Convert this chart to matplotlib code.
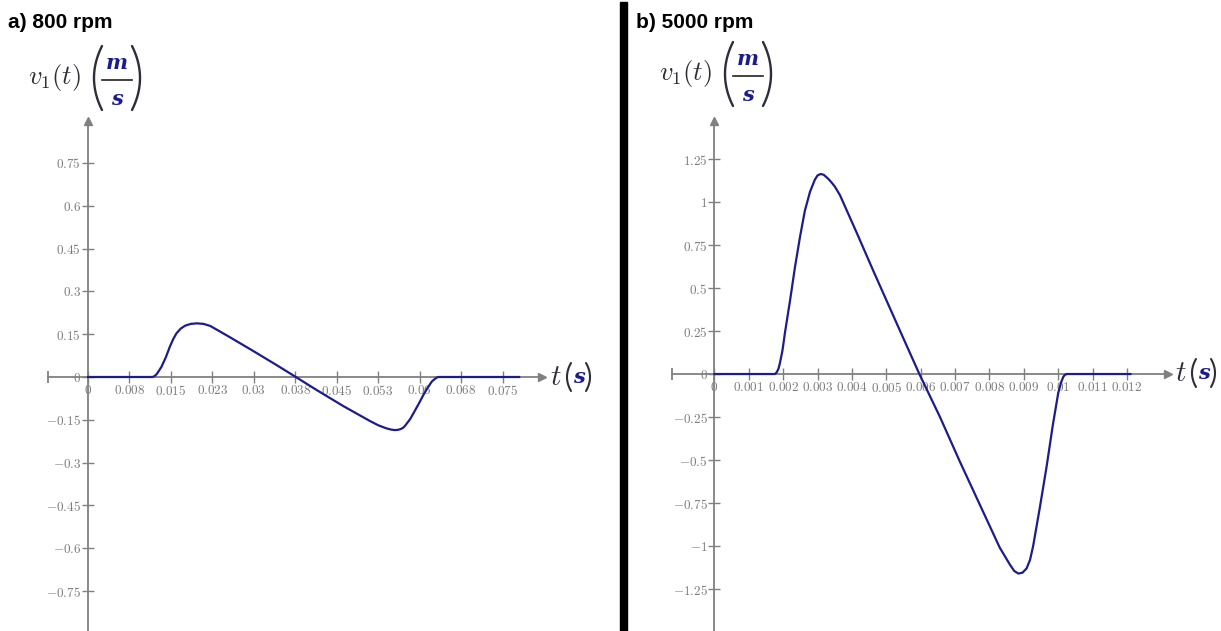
import numpy as np
import matplotlib
matplotlib.use('Agg')
import matplotlib.pyplot as plt
from matplotlib import transforms
from matplotlib.patches import Rectangle
from matplotlib.lines import Line2D

plt.rcParams['mathtext.fontset'] = 'cm'

W, H = 1221, 631

# ---- data ----
# a) 800 rpm
t_a = [0, 0.0117, 0.0121, 0.0125, 0.0133, 0.0141, 0.0148, 0.0154, 0.0160, 0.0168, 0.0176,
       0.0186, 0.0197, 0.0209, 0.0221, 0.0240, 0.0257, 0.0299, 0.0341, 0.0376,
       0.0414, 0.0462, 0.0510, 0.0525, 0.0540, 0.0548, 0.0555, 0.0561, 0.0566, 0.0570,
       0.0574, 0.0583, 0.0592, 0.0600, 0.0607, 0.0615, 0.0622, 0.0628, 0.0631, 0.0634, 0.078]
v_a = [0, 0, 0.004, 0.012, 0.036, 0.070, 0.106, 0.132, 0.153, 0.170, 0.180,
       0.186, 0.188, 0.186, 0.179, 0.158, 0.139, 0.091, 0.042, 0.0,
       -0.046, -0.102, -0.154, -0.169, -0.180, -0.184, -0.186, -0.185, -0.182, -0.178,
       -0.170, -0.147, -0.116, -0.088, -0.062, -0.036, -0.016, -0.006, -0.002, 0, 0]

# b) 5000 rpm
t_b = [0, 0.00176, 0.00181, 0.00186, 0.0019, 0.00198, 0.00205, 0.0022, 0.00234, 0.00249,
       0.00263, 0.00278, 0.00292, 0.00300, 0.00309, 0.00318, 0.00331, 0.00340, 0.00350,
       0.00365, 0.00414, 0.00462, 0.00511, 0.00559, 0.00596, 0.00656, 0.00714, 0.00772,
       0.0083, 0.0086, 0.00872, 0.00884, 0.00896, 0.00908, 0.00918, 0.00927, 0.00947,
       0.00966, 0.00984, 0.0100, 0.01008, 0.01015, 0.0102, 0.01025, 0.0121]
v_b = [0, 0, 0.01, 0.03, 0.06, 0.14, 0.24, 0.43, 0.62, 0.80,
       0.95, 1.06, 1.13, 1.155, 1.163, 1.158, 1.135, 1.115, 1.09,
       1.04, 0.82, 0.60, 0.38, 0.165, 0.0, -0.25, -0.51, -0.76,
       -1.01, -1.11, -1.145, -1.16, -1.155, -1.13, -1.08, -1.00, -0.77,
       -0.54, -0.30, -0.11, -0.05, -0.015, -0.004, 0, 0]

xt_a = [0, 0.0075, 0.015, 0.0225, 0.03, 0.0375, 0.045, 0.0525, 0.06, 0.0675, 0.075]
xl_a = ['0', '0.008', '0.015', '0.023', '0.03', '0.038', '0.045', '0.053', '0.06', '0.068', '0.075']
yt_a = [-0.75, -0.6, -0.45, -0.3, -0.15, 0, 0.15, 0.3, 0.45, 0.6, 0.75]
yl_a = ['-0.75', '-0.6', '-0.45', '-0.3', '-0.15', '0', '0.15', '0.3', '0.45', '0.6', '0.75']

xt_b = [0, 0.001, 0.002, 0.003, 0.004, 0.005, 0.006, 0.007, 0.008, 0.009, 0.01, 0.011, 0.012]
xl_b = ['0', '0.001', '0.002', '0.003', '0.004', '0.005', '0.006', '0.007', '0.008', '0.009', '0.01', '0.011', '0.012']
yt_b = [-1.25, -1, -0.75, -0.5, -0.25, 0, 0.25, 0.5, 0.75, 1, 1.25]
yl_b = ['-1.25', '-1', '-0.75', '-0.5', '-0.25', '0', '0.25', '0.5', '0.75', '1', '1.25']

gray = '#808080'
lblgray = '#7c7c7c'
curve = '#1c1c8c'
dark = '#2e2e3a'

fig = plt.figure(figsize=(W / 100, H / 100), dpi=100)
# pixel coords from top-left
T = transforms.Affine2D().scale(1, -1).translate(0, H)


def make_ax(box, xlim, ylim, t, v, xt, xl, yt, yl):
    x0, x1, y0, y1 = box
    ax = fig.add_axes([x0 / W, 1 - y1 / H, (x1 - x0) / W, (y1 - y0) / H])
    ax.set_xlim(*xlim)
    ax.set_ylim(*ylim)
    for s in ['top', 'right']:
        ax.spines[s].set_visible(False)
    for s in ['left', 'bottom']:
        ax.spines[s].set_position(('data', 0))
        ax.spines[s].set_color(gray)
        ax.spines[s].set_linewidth(1.3)
    ax.set_xticks(xt)
    ax.set_xticklabels(['$' + s + '$' for s in xl])
    ax.set_yticks(yt)
    ax.set_yticklabels(['$' + s + '$' for s in yl])
    ax.tick_params(direction='inout', length=8, width=1, color=gray,
                   labelcolor=lblgray, labelsize=9.5, pad=1)
    ax.patch.set_visible(False)
    ax.plot(1, 0, '>', color=gray, ms=6, transform=ax.get_yaxis_transform(), clip_on=False)
    ax.plot(0, 1, '^', color=gray, ms=6, transform=ax.get_xaxis_transform(), clip_on=False)
    ax.plot(0, 0, '|', color=gray, ms=9, mew=1.3, transform=ax.get_yaxis_transform(), clip_on=False)
    ax.plot(t, v, color=curve, lw=1.6, zorder=3, clip_on=False)
    return ax


make_ax((48, 542, 121, 631), (-0.00724, 0.08214), (-0.8897, 0.8967),
        t_a, v_a, xt_a, xl_a, yt_a, yl_a)
make_ax((672, 1168, 121, 631), (-0.001236, 0.013193), (-1.494, 1.471),
        t_b, v_b, xt_b, xl_b, yt_b, yl_b)


def paren(x_out, yc, half_h, depth, left=True, lw=1.7):
    # a parenthesis drawn as a parabola; x_out is its outermost point
    s = np.linspace(-1, 1, 40)
    xs = x_out + depth * s ** 2 if left else x_out - depth * s ** 2
    fig.add_artist(Line2D(xs, yc + half_h * s, transform=T, color=dark, lw=lw,
                          solid_capstyle='round'))


def unit_label(x, y):
    # v1(t) (m/s)
    fig.text(x, y, r'$v_1(t)$', transform=T, fontsize=19, color=dark, va='baseline')
    px = x + 66
    paren(px, y - 6, 32, 8, left=True)
    paren(px + 46, y - 6, 32, 8, left=False)
    cx = px + 23
    fig.text(cx, y - 21, 'm', transform=T, fontsize=15, color=curve, family='DejaVu Serif',
             style='italic', weight='bold', ha='center', va='center')
    fig.add_artist(Line2D([px + 8, px + 38], [y - 4, y - 4], transform=T, color='#222222', lw=1.2))
    fig.text(cx, y + 15, 's', transform=T, fontsize=15, color=curve, family='DejaVu Serif',
             style='italic', weight='bold', ha='center', va='center')


def t_label(x, y):
    fig.text(x, y, r'$t$', transform=T, fontsize=21, color=dark, va='center')
    paren(x + 17, y, 14, 4, left=True, lw=1.5)
    fig.text(x + 23, y, 's', transform=T, fontsize=15, color=curve, family='DejaVu Serif',
             style='italic', weight='bold', va='center')
    paren(x + 40, y, 14, 4, left=False, lw=1.5)


unit_label(28, 84)
unit_label(659, 80)
t_label(550, 377)
t_label(1175, 373)

fig.text(8, 22, 'a) 800 rpm', transform=T, fontsize=15, weight='bold',
         family='Liberation Sans', va='center')
fig.text(636, 22, 'b) 5000 rpm', transform=T, fontsize=15, weight='bold',
         family='Liberation Sans', va='center')

fig.add_artist(Rectangle((619.5, 2), 7, 629, transform=T, color='black'))

plt.savefig('out.png', dpi=100)
